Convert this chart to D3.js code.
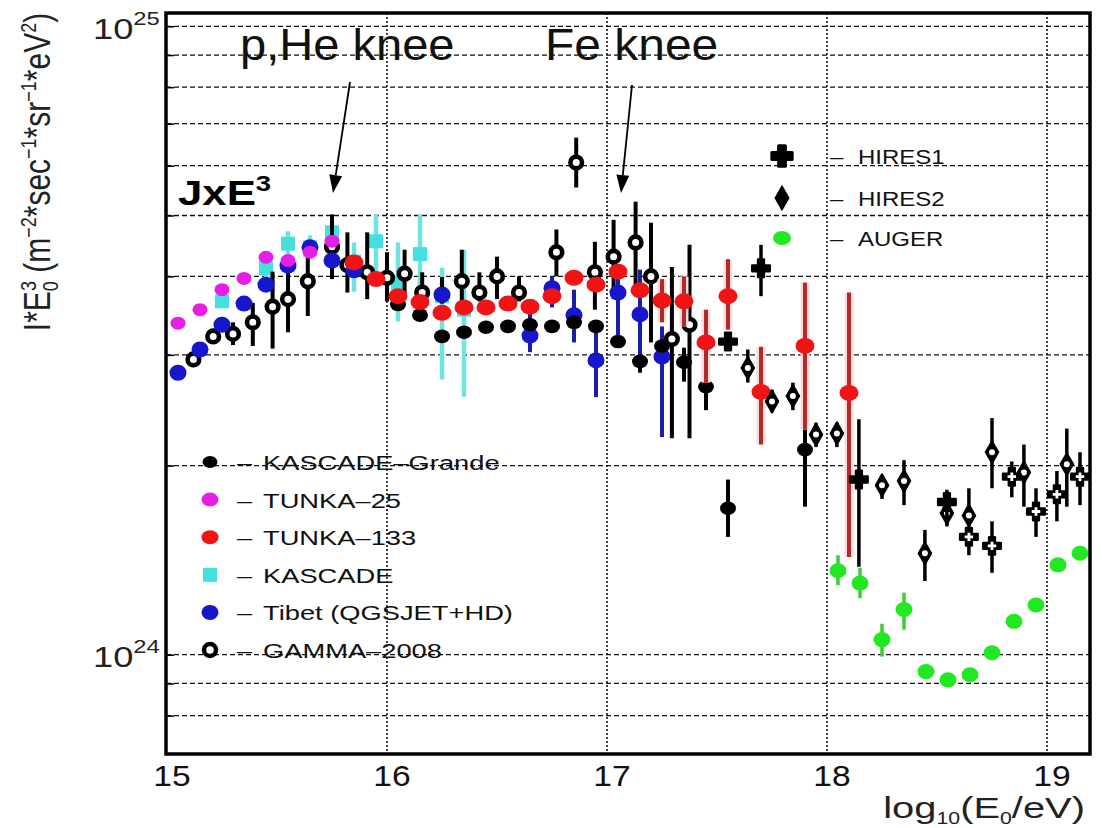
<!DOCTYPE html>
<html><head><meta charset="utf-8">
<script src="https://cdn.jsdelivr.net/npm/d3@7"></script>
<style>body{margin:0;background:#fff}text{font-family:"Liberation Sans",Arial,sans-serif}</style>
</head><body><svg id="c" width="1102" height="828" style="display:block;background:#fff"></svg>
<script>
// ---------- data (J*E^3 in units of 1e24 m^-2 s^-1 sr^-1 eV^2) ----------
const xTicks = [15, 16, 17, 18, 19];
const xGrid = [16, 17, 18, 19];
const yGrid = [0.8, 0.9, 1, 2, 3, 4, 5, 6, 7, 8, 9, 10];
const yTickValues = [1, 10];
const yTickExps = ["24", "25"];

// [log10(E), value, errLow, errHigh]
const tunka25 = [[15.05,3.37],[15.15,3.54],[15.25,3.81],[15.35,3.97],[15.45,4.29],[15.55,4.24],[15.65,4.37],[15.75,4.55]];
const tibet = [[15.05,2.81],[15.15,3.06],[15.25,3.35],[15.35,3.62],[15.45,3.88],[15.55,4.16],[15.65,4.45],[15.75,4.24],[15.85,4.09],
  [16.25,3.74],[16.65,3.22,3.03,3.54],[16.75,3.83,3.57,4.0],[16.85,3.47,3.14,3.81],[16.95,2.94,2.57,3.38],
  [17.05,3.77,3.14,4.03],[17.15,3.48,2.93,4.10],[17.25,2.98,2.22,3.33]];
const kascade = [[15.25,3.65],[15.45,4.12,3.88,4.34],[15.55,4.51,4.32,4.72],[15.65,4.45,4.27,4.65],[15.75,4.70,4.52,4.89],
  [15.85,4.22,3.78,4.53],[15.95,4.55,3.96,5.02],[16.05,3.91,3.39,4.53],[16.15,4.34,3.48,5.02],[16.25,3.72,2.74,4.13],[16.35,3.54,2.57,4.41]];
const gamma2008 = [[15.12,2.95,2.88,3.02],[15.21,3.21,3.13,3.30],[15.30,3.24,3.11,3.38],[15.39,3.38,3.10,3.63],[15.48,3.58,3.07,4.07],
  [15.55,3.68,3.26,4.07],[15.64,3.93,3.46,4.38],[15.75,4.46,3.96,5.02],[15.82,4.17,3.77,4.70],[15.91,4.06,3.68,4.70],
  [16.00,3.98,3.65,4.37],[16.08,4.04,3.68,4.41],[16.16,3.77,3.54,4.06],[16.25,3.74,3.62,3.99],[16.34,3.93,3.63,4.41],
  [16.42,3.77,3.65,4.06],[16.50,4.00,3.68,4.30],[16.60,3.77,3.65,4.00],[16.77,4.37,4.00,4.75],[16.86,6.07,5.54,6.65],
  [16.945,4.06,3.54,4.54],[17.03,4.30,3.68,4.92],[17.13,4.53,3.80,5.26],[17.20,4.00,3.14,4.87],[17.295,3.18,2.21,4.14],[17.375,3.35,2.21,4.49]];
const kascadeGrande = [[16.05,3.61],[16.15,3.47],[16.25,3.21],[16.35,3.26],[16.45,3.32],[16.55,3.33],[16.65,3.35],[16.75,3.33],
  [16.85,3.38],[16.95,3.33],[17.05,3.15],[17.15,2.93,2.81,2.99],[17.25,3.10],[17.35,2.92,2.72,3.08],[17.45,2.67,2.45,2.74],
  [17.55,1.71,1.54,1.90],[17.90,2.12,1.72,2.28]];
const tunka133 = [[15.85,4.21],[15.95,3.96],[16.05,3.72],[16.15,3.64],[16.25,3.50],[16.35,3.57],[16.45,3.57],[16.55,3.62],
  [16.65,3.58],[16.75,3.72],[16.85,3.98],[16.95,3.88],[17.05,4.07],[17.15,3.80],[17.25,3.66,3.38,3.96],[17.35,3.65,3.33,4.0],
  [17.45,3.14,2.71,3.54],[17.55,3.72,3.29,4.26],[17.70,2.62,2.16,3.09],[17.90,3.10,2.28,3.91],[18.10,2.61,1.43,3.77]];
const hires1 = [[17.55,3.15,3.05,3.25],[17.70,4.12,3.72,4.49],[18.145,1.90,1.38,2.37],[18.545,1.75,1.61,1.83]];
const hires2 = [[17.64,2.86,2.71,3.06],[17.75,2.53,2.43,2.64],[17.845,2.58,2.45,2.71],[17.95,2.24,2.14,2.34],[18.045,2.25,2.14,2.34],
  [18.25,1.86,1.77,1.93],[18.35,1.89,1.73,2.04],[18.445,1.45,1.31,1.58],[18.545,1.68,1.60,1.75],[18.645,1.665,1.60,1.84],
  [18.75,2.10,1.84,2.38],[18.895,1.95,1.72,2.16],[19.09,2.01,1.72,2.29]];
const openCrossPts = [[18.645,1.54,1.44,1.60],[18.75,1.49,1.35,1.63],[18.84,1.92,1.78,2.03],[18.95,1.69,1.54,1.84],[19.045,1.80,1.63,1.96],[19.15,1.92,1.73,2.10]];
const auger = [[18.05,1.36,1.29,1.44],[18.15,1.30,1.23,1.375],[18.25,1.057,0.993,1.12],[18.35,1.18,1.096,1.255],[18.45,0.94],[18.55,0.912],
  [18.65,0.929],[18.75,1.007],[18.85,1.13],[18.95,1.20],[19.05,1.39],[19.15,1.45]];

const legendLeftNames = ["KASCADE–Grande","TUNKA–25","TUNKA–133","KASCADE","Tibet (QGSJET+HD)","GAMMA–2008"];
const legendRightNames = ["HIRES1","HIRES2","AUGER"];

// ---------- drawing ----------
const svg = d3.select("#c");
const X = d3.scaleLinear().domain([15, 19.2]).range([167, 1091]);
const Y = d3.scaleLog().domain([0.695, 10.5]).range([754, 13]);
const L = 166, R = 1090, T = 13, B = 754;

const C = {mag:"#e61ee6", red:"#f01414", cyan:"#44e0e0", blue:"#1616cc", green:"#22e822", black:"#000"};

// grid
svg.append("g").selectAll("line").data(yGrid).join("line")
  .attr("x1",L).attr("x2",R).attr("y1",d=>Y(d)).attr("y2",d=>Y(d))
  .attr("stroke","#111").attr("stroke-width",1.3).attr("stroke-dasharray","5,3");
svg.append("g").selectAll("line").data(xGrid).join("line")
  .attr("x1",d=>X(d)).attr("x2",d=>X(d)).attr("y1",T).attr("y2",B)
  .attr("stroke","#111").attr("stroke-width",1.6).attr("stroke-dasharray","2,2");

// axes
const xAx = svg.append("g").attr("transform",`translate(0,${B})`)
  .call(d3.axisBottom(X).tickValues(xTicks).tickSize(0).tickFormat(d3.format("d")));
xAx.select(".domain").remove();
xAx.selectAll("text").attr("y",32).attr("dy",0).attr("x",4).attr("font-size",30)
  .attr("fill","#111").attr("transform","scale(1.12,1)");

const yAx = svg.append("g").attr("transform",`translate(${L},0)`)
  .call(d3.axisLeft(Y).tickValues(yGrid).tickSize(-8).tickFormat(""));
yAx.select(".domain").remove();
yAx.selectAll(".tick line").attr("stroke","#000").attr("stroke-width",1.5);
yAx.selectAll(".tick").each(function(d){
  const i = yTickValues.indexOf(d);
  if (i < 0) return;
  const t = d3.select(this).append("text").attr("x",-5).attr("y",12).attr("text-anchor","end")
    .attr("font-size",29).attr("fill","#222").attr("transform","scale(1.25,1)");
  t.append("tspan").text("10");
  t.append("tspan").attr("font-size",19).attr("dy",-14).text(yTickExps[i]);
});

// helpers
const layer = svg.append("g");
function bars(data, color, w, halo){
  const dd = data.filter(d=>d.length>3);
  if (halo) layer.append("g").selectAll("line").data(dd).join("line")
    .attr("x1",d=>X(d[0])).attr("x2",d=>X(d[0])).attr("y1",d=>Y(d[2])).attr("y2",d=>Y(d[3]))
    .attr("stroke",halo).attr("stroke-width",w+5);
  layer.append("g").selectAll("line").data(dd).join("line")
    .attr("x1",d=>X(d[0])).attr("x2",d=>X(d[0])).attr("y1",d=>Y(d[2])).attr("y2",d=>Y(d[3]))
    .attr("stroke",color).attr("stroke-width",w);
}
function dots(data, color, rx, ry){
  layer.append("g").selectAll("ellipse").data(data).join("ellipse")
    .attr("cx",d=>X(d[0])).attr("cy",d=>Y(d[1])).attr("rx",rx).attr("ry",ry).attr("fill",color);
}
function squares(data, color, s){
  layer.append("g").selectAll("rect").data(data).join("rect")
    .attr("x",d=>X(d[0])-s/2).attr("y",d=>Y(d[1])-s/2).attr("width",s).attr("height",s).attr("fill",color);
}
function rings(data, r, sw){
  layer.append("g").selectAll("circle").data(data).join("circle")
    .attr("cx",d=>X(d[0])).attr("cy",d=>Y(d[1])).attr("r",r).attr("fill","#fff")
    .attr("stroke","#000").attr("stroke-width",sw);
}
const diamondPath = d3.symbol(d3.symbolDiamond).size(150)();
const crossPath = d3.symbol(d3.symbolCross).size(170)();
const crossSmall = d3.symbol(d3.symbolCross).size(40)();
function diamonds(data){
  const g = layer.append("g").selectAll("g").data(data).join("g")
    .attr("transform",d=>`translate(${X(d[0])},${Y(d[1])})`);
  g.append("path").attr("d",diamondPath).attr("fill","#000").attr("stroke","#000").attr("stroke-width",1.5).attr("stroke-linejoin","round");
  g.append("circle").attr("r",3).attr("fill","#fff");
}
function crosses(data, open){
  const g = layer.append("g").selectAll("g").data(data).join("g")
    .attr("transform",d=>`translate(${X(d[0])},${Y(d[1])})`);
  g.append("path").attr("d",crossPath).attr("fill","#000").attr("stroke","#000").attr("stroke-width",2.5).attr("stroke-linejoin","round");
  if (open) g.append("path").attr("d",crossSmall).attr("fill","#fff");
}

// series
bars(kascade, "#6fe3e3", 4.5); squares(kascade, C.cyan, 14);
bars(gamma2008, "#000", 4); rings(gamma2008, 5.8, 4.6);
bars(tibet, "#1c1caa", 4); dots(tibet, C.blue, 8.5, 8);
dots(tunka25, C.mag, 7.5, 6.5);
bars(kascadeGrande, "#000", 4); dots(kascadeGrande, C.black, 8, 6.8);
bars(tunka133, "#b32a2a", 4, "#f8dada"); dots(tunka133, C.red, 9.5, 8);
bars(hires2, "#000", 3.5); diamonds(hires2);
bars(hires1, "#000", 3.5); crosses(hires1, false);
bars(openCrossPts, "#000", 3.5); crosses(openCrossPts, true);
bars(auger, "#3ccc3c", 3.5); dots(auger, C.green, 8.5, 7.5);

// frame
svg.append("rect").attr("x",L).attr("y",T).attr("width",R-L).attr("height",B-T)
  .attr("fill","none").attr("stroke","#000").attr("stroke-width",3.5);

// text helper
function stext(x, y, str, size, sx, opts={}){
  return svg.append("text").attr("transform",`translate(${x},${y}) scale(${sx},1)`)
    .attr("font-size",size).attr("fill",opts.fill||"#111").attr("font-weight",opts.weight||"normal")
    .attr("text-anchor",opts.anchor||"start").text(str);
}

// left legend
const legY0 = 462, legDy = 37.6;
legendLeftNames.forEach((n,i)=>{
  const y = legY0 + i*legDy;
  const mk = svg.append("g").attr("transform",`translate(210,${y})`);
  if (i===0) mk.append("ellipse").attr("rx",7.5).attr("ry",6).attr("fill","#000");
  if (i===1) mk.append("ellipse").attr("rx",8.5).attr("ry",7).attr("fill",C.mag);
  if (i===2) mk.append("ellipse").attr("rx",8.5).attr("ry",7).attr("fill",C.red);
  if (i===3) mk.append("rect").attr("x",-7).attr("y",-7).attr("width",14).attr("height",14).attr("fill",C.cyan);
  if (i===4) mk.append("ellipse").attr("rx",8.5).attr("ry",7.5).attr("fill",C.blue);
  if (i===5) mk.append("circle").attr("r",6).attr("fill","#fff").attr("stroke","#000").attr("stroke-width",4.5);
  stext(237, y+8, "–", 21, 1.3);
  stext(263, y+8, n, 21, 1.3);
});
// right legend
legendRightNames.forEach((n,i)=>{
  const y = [156,198,238][i];
  const mk = svg.append("g").attr("transform",`translate(782,${y})`);
  if (i===0) mk.append("path").attr("d",d3.symbol(d3.symbolCross).size(230)()).attr("fill","#000").attr("stroke","#000").attr("stroke-width",3).attr("stroke-linejoin","round");
  if (i===1) mk.append("path").attr("d",d3.symbol(d3.symbolDiamond).size(200)()).attr("fill","#000");
  if (i===2) mk.append("ellipse").attr("rx",9).attr("ry",7).attr("fill",C.green);
  stext(830, y+8, "–", 20, 1.2);
  stext(858, y+8, n, 20, 1.2);
});

// annotations
stext(240, 60, "p,He knee", 44, 1.07);
stext(545, 60, "Fe knee", 44, 1.09);
const jx = svg.append("text").attr("transform","translate(178,205) scale(1.25,1)")
  .attr("font-size",35).attr("font-weight","bold").attr("fill","#000");
jx.append("tspan").text("JxE");
jx.append("tspan").attr("font-size",22).attr("dy",-14).text("3");

function arrow(x1,y1,x2,y2){
  const dx=x2-x1, dy=y2-y1, len=Math.hypot(dx,dy), ux=dx/len, uy=dy/len;
  const hl=18, hw=6.5, bx=x2-ux*hl, by=y2-uy*hl;
  svg.append("line").attr("x1",x1).attr("y1",y1).attr("x2",bx).attr("y2",by).attr("stroke","#000").attr("stroke-width",1.8);
  svg.append("polygon").attr("points",`${x2},${y2} ${bx-uy*hw},${by+ux*hw} ${bx+uy*hw},${by-ux*hw}`).attr("fill","#000");
}
arrow(350,82,333,193);
arrow(632,85,621,193);

// y label
const yl = svg.append("text").attr("transform","translate(50,172) rotate(-90) scale(1,1.2)")
  .attr("text-anchor","middle").attr("font-size",30).attr("fill","#222");
yl.append("tspan").text("I*E");
yl.append("tspan").attr("font-size",18).attr("dy",7).text("0");
yl.append("tspan").attr("font-size",18).attr("dx",-10).attr("dy",-19).text("3");
yl.append("tspan").attr("dy",12).text(" (m");
yl.append("tspan").attr("font-size",18).attr("dy",-12).text("−2");
yl.append("tspan").attr("dy",12).text("*sec");
yl.append("tspan").attr("font-size",18).attr("dy",-12).text("−1");
yl.append("tspan").attr("dy",12).text("*sr");
yl.append("tspan").attr("font-size",18).attr("dy",-12).text("−1");
yl.append("tspan").attr("dy",12).text("*eV");
yl.append("tspan").attr("font-size",18).attr("dy",-12).text("2");
yl.append("tspan").attr("dy",12).text(")");

// x label
const xl = svg.append("text").attr("transform","translate(1085,818) scale(1.33,1)")
  .attr("text-anchor","end").attr("font-size",30).attr("fill","#222");
xl.append("tspan").text("log");
xl.append("tspan").attr("font-size",16).attr("dy",6).text("10");
xl.append("tspan").attr("dy",-6).text("(E");
xl.append("tspan").attr("font-size",16).attr("dy",6).text("0");
xl.append("tspan").attr("dy",-6).text("/eV)");
</script></body></html>
